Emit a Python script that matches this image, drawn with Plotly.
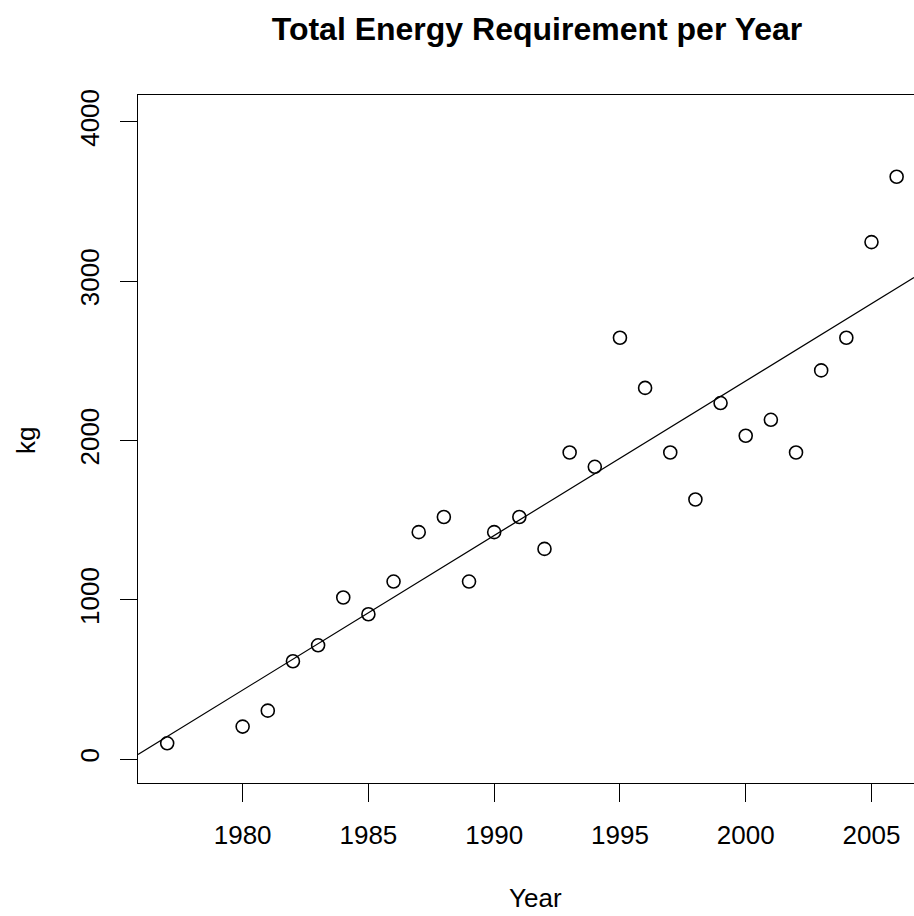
import numpy as np
import plotly.graph_objects as go

years = [1977, 1980, 1981, 1982, 1983, 1984, 1985, 1986, 1987, 1988,
         1989, 1990, 1991, 1992, 1993, 1994, 1995, 1996, 1997, 1998,
         1999, 2000, 2001, 2002, 2003, 2004, 2005, 2006]
kg = [100, 205, 305, 615, 715, 1015, 910, 1115, 1425, 1520,
      1115, 1425, 1520, 1320, 1925, 1835, 2645, 2330, 1925, 1630,
      2235, 2030, 2130, 1925, 2440, 2645, 3245, 3655]

x_ticks = [1980, 1985, 1990, 1995, 2000, 2005]
y_ticks = [0, 1000, 2000, 3000, 4000]

title_text = "Total Energy Requirement per Year"
x_title = "Year"
y_title = "kg"

x_range = [1975.84, 2006.69]
y_range = [-149, 4168]

slope, intercept = np.polyfit(years, kg, 1)
fit_x = np.array(x_range)
fit_y = slope * fit_x + intercept

FONT = "Liberation Sans, Arial, Helvetica, sans-serif"

fig = go.Figure()
fig.add_trace(go.Scatter(
    x=fit_x, y=fit_y, mode="lines",
    line=dict(color="black", width=1.2),
    hoverinfo="skip", showlegend=False, cliponaxis=True,
))
fig.add_trace(go.Scatter(
    x=years, y=kg, mode="markers",
    marker=dict(symbol="circle-open", size=13, color="black",
                line=dict(width=1.6, color="black")),
    showlegend=False, cliponaxis=False,
))

fig.update_layout(
    width=914, height=916,
    margin=dict(l=138, r=0, t=95, b=133, pad=0),
    paper_bgcolor="white", plot_bgcolor="white",
    font=dict(family=FONT, size=26, color="black"),
    title=dict(text=title_text, x=(537 - 138) / 776, xref="paper", xanchor="center",
               y=1 - 29 / 916, yref="container", yanchor="middle",
               font=dict(family=FONT, size=32, color="black", weight="bold")),
    xaxis=dict(range=x_range, tickmode="array", tickvals=x_ticks,
               ticktext=[str(v) for v in x_ticks],
               showgrid=False, zeroline=False,
               showline=True, linecolor="black", linewidth=1.3, mirror=True,
               ticks="outside", ticklen=18, tickwidth=1.3, tickcolor="black",
               ticklabelstandoff=11,
               tickfont=dict(family=FONT, size=26, color="black")),
    yaxis=dict(range=y_range, tickmode="array", tickvals=y_ticks,
               ticktext=[str(v) for v in y_ticks],
               showgrid=False, zeroline=False,
               showline=True, linecolor="black", linewidth=1.3, mirror=False,
               ticks="outside", ticklen=17, tickwidth=1.3, tickcolor="black",
               tickangle=-90, ticklabelstandoff=10,
               tickfont=dict(family=FONT, size=26, color="black")),
    annotations=[
        dict(text=x_title, xref="paper", yref="paper",
             x=(535 - 138) / 776, y=-(898 - 783) / 688,
             xanchor="center", yanchor="middle", showarrow=False,
             font=dict(family=FONT, size=26, color="black")),
        dict(text=y_title, xref="paper", yref="paper",
             x=-(138 - 26) / 776, y=(783 - 441) / 688,
             xanchor="center", yanchor="middle", showarrow=False, textangle=-90,
             font=dict(family=FONT, size=26, color="black")),
    ],
)

fig.write_html("out.html")
